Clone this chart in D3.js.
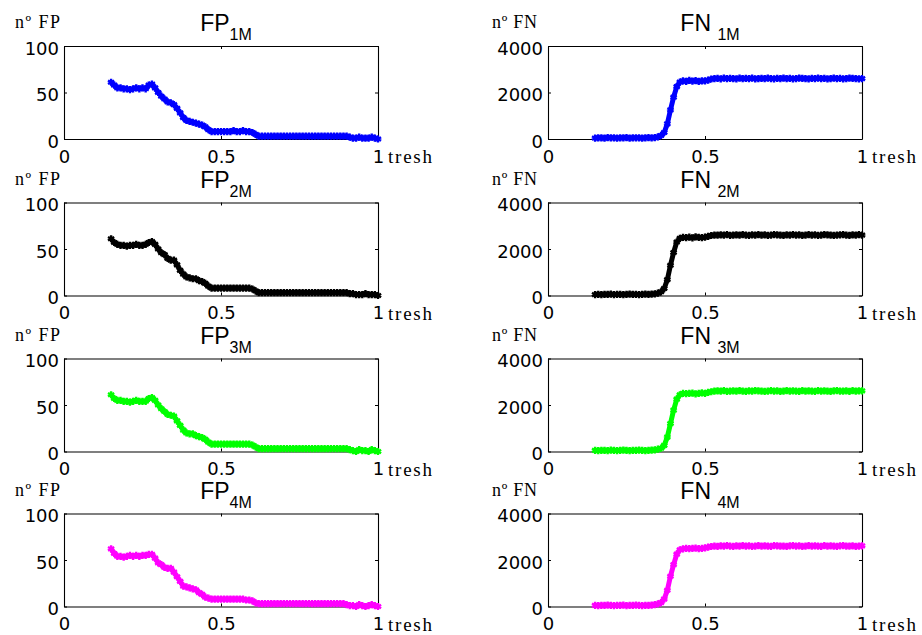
<!DOCTYPE html>
<html lang="en">
  <head>
    <title>FP / FN vs threshold</title>
    <script src="https://d3js.org/d3.v7.min.js"></script>
    <style>
      body {
        margin: 0;
        background-color: #fff;
      }
      .tick text {
        font-family: "DejaVu Sans", sans-serif;
        font-size: 18px;
        fill: #000;
      }
      .tick line,
      .domain {
        stroke: #000;
      }
    </style>
  </head>
  <body>
    <div id="chart"></div>
    <script>
      // threshold values (x)
      const thresh = [
        0.15, 0.16, 0.17, 0.18, 0.19, 0.2, 0.21, 0.22, 0.23, 0.24, 0.25, 0.26,
        0.27, 0.28, 0.29, 0.3, 0.31, 0.32, 0.33, 0.34, 0.35, 0.36, 0.37, 0.38,
        0.39, 0.4, 0.41, 0.42, 0.43, 0.44, 0.45, 0.46, 0.47, 0.48, 0.49, 0.5,
        0.51, 0.52, 0.53, 0.54, 0.55, 0.56, 0.57, 0.58, 0.59, 0.6, 0.61, 0.62,
        0.63, 0.64, 0.65, 0.66, 0.67, 0.68, 0.69, 0.7, 0.71, 0.72, 0.73, 0.74,
        0.75, 0.76, 0.77, 0.78, 0.79, 0.8, 0.81, 0.82, 0.83, 0.84, 0.85, 0.86,
        0.87, 0.88, 0.89, 0.9, 0.91, 0.92, 0.93, 0.94, 0.95, 0.96, 0.97, 0.98,
        0.99, 1.0,
      ];

      // false positives
      const fp1M = [
        61, 58, 55, 55, 54, 54, 53, 54, 55, 54, 55, 54, 58, 59, 55, 50, 46, 43,
        40, 39, 37, 33, 28, 23, 20, 19, 18, 17, 16, 15, 13, 10, 8, 8, 8, 8, 8,
        8, 8, 9, 8, 8, 9, 8, 8, 7, 5, 3, 3, 3, 3, 3, 3, 3, 3, 3, 3, 3, 3, 3, 3,
        3, 3, 3, 3, 3, 3, 3, 3, 3, 3, 3, 3, 3, 3, 3, 2, 1, 1, 2, 1, 1, 1, 2, 1,
        0,
      ];
      const fp2M = [
        61, 57, 55, 54, 54, 53, 54, 54, 55, 54, 54, 55, 57, 58, 55, 50, 46, 44,
        40, 38, 38, 33, 27, 23, 20, 19, 18, 18, 16, 15, 13, 10, 8, 8, 8, 8, 8,
        8, 8, 8, 8, 8, 8, 8, 8, 7, 5, 3, 3, 3, 3, 3, 3, 3, 3, 3, 3, 3, 3, 3, 3,
        3, 3, 3, 3, 3, 3, 3, 3, 3, 3, 3, 3, 3, 3, 3, 2, 2, 1, 1, 1, 2, 1, 1, 1,
        0,
      ];
      const fp3M = [
        61, 57, 55, 55, 54, 54, 53, 54, 55, 54, 54, 54, 57, 58, 55, 50, 46, 43,
        40, 39, 38, 33, 28, 23, 20, 19, 19, 17, 16, 15, 13, 10, 8, 8, 8, 8, 8,
        8, 8, 8, 8, 8, 8, 8, 8, 7, 5, 3, 3, 3, 3, 3, 3, 3, 3, 3, 3, 3, 3, 3, 3,
        3, 3, 3, 3, 3, 3, 3, 3, 3, 3, 3, 3, 3, 3, 3, 2, 1, 0, 2, 1, 1, 0, 2, 1,
        0,
      ];
      const fp4M = [
        62, 57, 54, 54, 53, 54, 55, 54, 55, 54, 55, 55, 56, 56, 52, 47, 45, 42,
        41, 41, 37, 32, 27, 22, 21, 20, 19, 18, 15, 13, 10, 9, 8, 8, 8, 8, 8, 8,
        8, 8, 8, 8, 8, 7, 7, 6, 4, 3, 3, 3, 3, 3, 3, 3, 3, 3, 3, 3, 3, 3, 3, 3,
        3, 3, 3, 3, 3, 3, 3, 3, 3, 3, 3, 3, 3, 2, 1, 1, 0, 2, 1, 0, 1, 2, 1, 0,
      ];

      // false negatives
      const fn1M = [
        40, 50, 50, 40, 60, 50, 50, 40, 50, 50, 60, 40, 50, 50, 50, 40, 50, 60,
        50, 60, 90, 150, 280, 650, 1250, 1800, 2250, 2450, 2500, 2480, 2520,
        2490, 2510, 2480, 2500, 2500, 2530, 2580, 2600, 2610, 2590, 2620, 2600,
        2610, 2600, 2590, 2620, 2600, 2610, 2600, 2620, 2590, 2600, 2610, 2600,
        2620, 2600, 2590, 2610, 2600, 2620, 2600, 2610, 2590, 2600, 2620, 2610,
        2600, 2590, 2610, 2600, 2620, 2600, 2610, 2590, 2600, 2620, 2600, 2610,
        2590, 2600, 2620, 2610, 2600, 2590, 2600,
      ];
      const fn2M = [
        40, 50, 40, 50, 50, 60, 40, 50, 50, 40, 50, 60, 50, 50, 40, 50, 60, 50,
        60, 70, 100, 160, 300, 680, 1300, 1850, 2300, 2460, 2500, 2490, 2510,
        2480, 2520, 2500, 2490, 2510, 2540, 2580, 2600, 2600, 2610, 2600, 2620,
        2590, 2600, 2610, 2600, 2620, 2600, 2590, 2610, 2600, 2620, 2600, 2610,
        2590, 2600, 2620, 2610, 2600, 2590, 2610, 2600, 2620, 2600, 2610, 2590,
        2600, 2620, 2600, 2610, 2590, 2600, 2620, 2610, 2600, 2590, 2600, 2610,
        2620, 2600, 2590, 2610, 2600, 2620, 2600,
      ];
      const fn3M = [
        50, 40, 50, 50, 40, 60, 50, 40, 50, 60, 50, 40, 50, 50, 60, 50, 40, 50,
        60, 70, 100, 140, 260, 620, 1200, 1780, 2250, 2440, 2500, 2490, 2500,
        2510, 2480, 2500, 2520, 2500, 2540, 2570, 2600, 2610, 2600, 2620, 2590,
        2600, 2610, 2600, 2620, 2600, 2590, 2610, 2600, 2620, 2610, 2600, 2590,
        2600, 2620, 2600, 2610, 2590, 2600, 2620, 2600, 2610, 2600, 2590, 2620,
        2600, 2610, 2600, 2590, 2620, 2600, 2610, 2600, 2590, 2610, 2620, 2600,
        2600, 2610, 2590, 2620, 2600, 2610, 2610,
      ];
      const fn4M = [
        50, 40, 50, 50, 60, 50, 40, 50, 50, 60, 40, 50, 50, 60, 50, 40, 50, 50,
        60, 80, 110, 170, 320, 700, 1300, 1800, 2250, 2440, 2480, 2500, 2490,
        2500, 2510, 2490, 2500, 2520, 2550, 2580, 2600, 2590, 2610, 2600, 2620,
        2600, 2590, 2610, 2600, 2620, 2600, 2610, 2590, 2600, 2620, 2600, 2610,
        2600, 2590, 2620, 2610, 2600, 2600, 2590, 2610, 2620, 2600, 2610, 2590,
        2600, 2620, 2600, 2610, 2600, 2590, 2620, 2600, 2610, 2600, 2590, 2610,
        2620, 2600, 2600, 2610, 2590, 2600, 2610,
      ];

      const fpTicks = [0, 50, 100];
      const fnTicks = [0, 2000, 4000];
      const xTicks = [0, 0.5, 1];

      const panels = [
        { base: "FP", sub: "1M", values: fp1M, color: "#0000ff", row: 0, col: 0 },
        { base: "FN ", sub: "1M", values: fn1M, color: "#0000ff", row: 0, col: 1 },
        { base: "FP", sub: "2M", values: fp2M, color: "#000000", row: 1, col: 0 },
        { base: "FN ", sub: "2M", values: fn2M, color: "#000000", row: 1, col: 1 },
        { base: "FP", sub: "3M", values: fp3M, color: "#00ff00", row: 2, col: 0 },
        { base: "FN ", sub: "3M", values: fn3M, color: "#00ff00", row: 2, col: 1 },
        { base: "FP", sub: "4M", values: fp4M, color: "#ff00ff", row: 3, col: 0 },
        { base: "FN ", sub: "4M", values: fn4M, color: "#ff00ff", row: 3, col: 1 },
      ];

      const width = 922;
      const height = 635;
      const colLeft = [64, 548];
      const boxW = 314;
      const boxH = 93;
      const rowTop = [46, 202.5, 358.5, 513.5];

      const svg = d3
        .select("#chart")
        .append("svg")
        .attr("width", width)
        .attr("height", height);

      const marker = d3.symbol().type(d3.symbolAsterisk).size(36);

      panels.forEach((p) => {
        const isFP = p.col === 0;
        const yTicks = isFP ? fpTicks : fnTicks;
        const g = svg
          .append("g")
          .attr("transform", `translate(${colLeft[p.col]},${rowTop[p.row]})`);

        const x = d3.scaleLinear().domain([0, 1]).range([0, boxW]);
        const y = d3
          .scaleLinear()
          .domain([0, yTicks[2]])
          .range([boxH, 0]);

        // box + inward ticks (matlab style)
        g.append("g")
          .attr("transform", `translate(0,${boxH})`)
          .call(
            d3
              .axisBottom(x)
              .tickValues(xTicks)
              .tickSizeInner(-3)
              .tickSizeOuter(0)
              .tickPadding(11)
              .tickFormat(d3.format("~g"))
          );
        g.append("g").call(
          d3.axisTop(x).tickValues(xTicks).tickSizeInner(-3).tickSizeOuter(0).tickFormat("")
        );
        const yl = g
          .append("g")
          .call(
            d3
              .axisLeft(y)
              .tickValues(yTicks)
              .tickSizeInner(-3)
              .tickSizeOuter(0)
              .tickPadding(5)
              .tickFormat(d3.format("d"))
          );
        yl.selectAll(".tick text").attr("dy", "0.45em");
        g.append("g")
          .attr("transform", `translate(${boxW},0)`)
          .call(
            d3.axisRight(y).tickValues(yTicks).tickSizeInner(-3).tickSizeOuter(0).tickFormat("")
          );
        g.selectAll(".domain").attr("stroke-width", 1.1);

        // data
        const pts = thresh.map((t, i) => [x(t), y(p.values[i])]);
        g.append("path")
          .attr("d", d3.line()(pts))
          .attr("fill", "none")
          .attr("stroke", p.color)
          .attr("stroke-width", 5)
          .attr("stroke-linejoin", "round");
        g.selectAll(".mk")
          .data(pts)
          .enter()
          .append("path")
          .attr("class", "mk")
          .attr("d", marker)
          .attr("transform", (d) => `translate(${d[0]},${d[1]})`)
          .attr("fill", "none")
          .attr("stroke", p.color)
          .attr("stroke-width", 2.4);

        // title with subscript
        const title = g
          .append("text")
          .attr("x", boxW / 2 + 5)
          .attr("y", -15)
          .attr("text-anchor", "middle")
          .style("font-family", "'Liberation Sans', Arial, sans-serif")
          .style("font-size", "23px")
          .attr("fill", "#000");
        title.append("tspan").text(p.base);
        title
          .append("tspan")
          .attr("dy", 9)
          .style("font-size", "16px")
          .text(p.sub);

        // y label
        g.append("text")
          .attr("x", isFP ? -49 : -56)
          .attr("y", -18)
          .attr("textLength", 45)
          .attr("lengthAdjust", "spacing")
          .style("font-family", "'Liberation Serif', 'Times New Roman', serif")
          .style("font-size", "18px")
          .attr("fill", "#000")
          .text(isFP ? "nº FP" : "nº FN");

        // x label
        g.append("text")
          .attr("x", boxW + 10)
          .attr("y", boxH + 24)
          .attr("textLength", 44)
          .attr("lengthAdjust", "spacing")
          .style("font-family", "'Liberation Serif', 'Times New Roman', serif")
          .style("font-size", "19px")
          .attr("fill", "#000")
          .text("tresh");
      });
    </script>
  </body>
</html>
